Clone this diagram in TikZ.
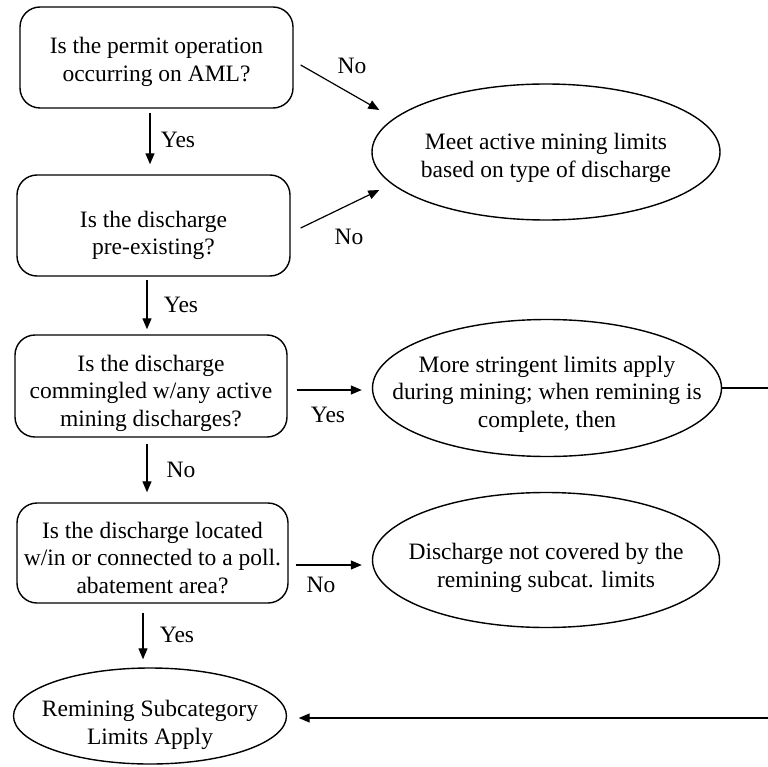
\documentclass[tikz,border=0pt]{standalone}
\usepackage{fontspec}
\setmainfont{Liberation Serif}
\usetikzlibrary{shapes.geometric,arrows.meta}
\begin{document}
\begin{tikzpicture}[x=1pt,y=-1pt,
  every node/.style={font=\fontsize{23.5}{27.5}\selectfont, align=center, inner sep=0pt},
  qbox/.style={draw, line width=1.4pt, rounded corners=20pt, rectangle},
  oval/.style={draw, line width=1.4pt, ellipse},
  arr/.style={line width=1.2pt, -{Triangle[length=11pt,width=9pt]}},
  lbl/.style={font=\fontsize{23.5}{26}\selectfont}]
\useasboundingbox (0,0) rectangle (767,767);
\fill[white] (0,0) rectangle (767,767);
% boxes
\node[qbox, minimum width=273pt, minimum height=101pt, label={[yshift=-4.5pt]center:{Is the permit operation\\occurring on AML?}}] (b1) at (156.5,57.5) {};
\node[qbox, minimum width=273pt, minimum height=101pt, label={[yshift=-10pt]center:{Is the discharge\\pre-existing?}}] (b2) at (153.5,225.5) {};
\node[qbox, minimum width=272pt, minimum height=102pt, label={[yshift=-7pt]center:{Is the discharge\\commingled w/any active\\mining discharges?}}] (b3) at (151,386) {};
\node[qbox, minimum width=271pt, minimum height=100pt, label={[yshift=-5pt]center:{Is the discharge located\\w/in or connected to a poll.\\abatement area?}}] (b4) at (152.5,553) {};
\node[oval, minimum width=273pt, minimum height=96pt, label={[yshift=-9pt]center:{Remining Subcategory\\Limits Apply}}] (rem) at (150,716) {};
% right ellipses
\node[oval, minimum width=348pt, minimum height=136pt, label={[yshift=-6pt]center:{Meet active mining limits\\based on type of discharge}}] (A) at (546,152) {};
\node[oval, minimum width=349pt, minimum height=137pt, label={[yshift=-6pt]center:{More stringent limits apply\\during mining; when remining is\\complete, then}}] (B) at (547,388) {};
\node[oval, minimum width=347pt, minimum height=135pt, label={[yshift=-8pt]center:{Discharge not covered by the\\remining subcat. limits}}] (C) at (546,560) {};
% vertical arrows
\draw[arr] ([shift={(-6.5,4)}]b1.south) -- ([shift={(-3.5,-10)}]b2.north);
\draw[arr] ([shift={(-6.5,3)}]b2.south) -- ([shift={(-4,-5)}]b3.north);
\draw[arr] ([shift={(-4,6)}]b3.south) -- ([shift={(-5.5,-10)}]b4.north);
\draw[arr] ([shift={(-9.5,9)}]b4.south) -- ([shift={(-7,-8)}]rem.north);
% diagonal arrows
\draw[arr] ([shift={(7,7.5)}]b1.east) -- ([shift={(8,-42)}]A.west);
\draw[arr] ([shift={(10,2.5)}]b2.east) -- ([shift={(8,38)}]A.west);
% horizontal arrows
\draw[arr] ([shift={(9,4)}]b3.east) -- ([shift={(-10,2)}]B.west);
\draw[arr] ([shift={(7,12)}]b4.east) -- ([shift={(-10,5)}]C.west);
% feedback
\coordinate (fb) at ([shift={(55,0)}]B.east);
\draw[arr] (B.east) -- (fb) |- ([shift={(11.5,2)}]rem.east);
% labels
\node[lbl] (l1) at (352,66) {No};
\node[lbl] (l2) at (178,140) {Yes};
\node[lbl] (l3) at (349,237) {No};
\node[lbl] (l4) at (181,305) {Yes};
\node[lbl] (l5) at (328,415) {Yes};
\node[lbl] (l6) at (181,470) {No};
\node[lbl] (l7) at (321,585) {No};
\node[lbl] (l8) at (177,635) {Yes};
\end{tikzpicture}
\end{document}
